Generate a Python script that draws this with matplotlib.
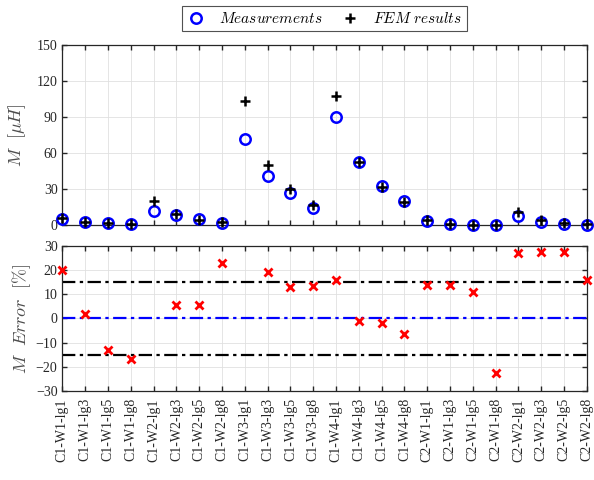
import numpy as np
import matplotlib
matplotlib.use('Agg')
import matplotlib.pyplot as plt

plt.rcParams['mathtext.fontset'] = 'cm'
plt.rcParams['font.family'] = 'Liberation Serif'

labels = ['C1-W1-lg1', 'C1-W1-lg3', 'C1-W1-lg5', 'C1-W1-lg8',
          'C1-W2-lg1', 'C1-W2-lg3', 'C1-W2-lg5', 'C1-W2-lg8',
          'C1-W3-lg1', 'C1-W3-lg3', 'C1-W3-lg5', 'C1-W3-lg8',
          'C1-W4-lg1', 'C1-W4-lg3', 'C1-W4-lg5', 'C1-W4-lg8',
          'C2-W1-lg1', 'C2-W1-lg3', 'C2-W1-lg5', 'C2-W1-lg8',
          'C2-W2-lg1', 'C2-W2-lg3', 'C2-W2-lg5', 'C2-W2-lg8']

# mutual inductance, uH
meas = [4.8, 2.2, 1.5, 0.6, 12.0, 8.4, 4.8, 2.0,
        72.0, 40.8, 26.5, 14.5, 90.5, 52.5, 32.5, 20.5,
        3.6, 0.9, 0.4, 0.1, 7.8, 3.0, 1.0, 0.3]
fem = [6.2, 2.8, 2.0, 0.8, 20.2, 8.9, 4.6, 2.2,
       103.5, 50.5, 30.5, 17.0, 107.5, 52.3, 32.0, 19.4,
       4.2, 1.1, 0.5, 0.1, 11.0, 4.2, 1.7, 0.9]

# relative error, %
err = [20.2, 2.0, -12.8, -16.8, 41.0, 5.5, 5.5, 22.8,
       30.4, 19.0, 13.1, 13.4, 16.0, -0.9, -1.7, -6.2,
       14.0, 13.8, 10.9, -22.4, 27.0, 27.6, 27.5, 16.0]

x = np.arange(1, len(labels) + 1)
grey = (0.15, 0.15, 0.15)

fig = plt.figure(figsize=(5.94, 4.8), dpi=100)
ax1 = fig.add_axes([0.105, 0.531, 0.883, 0.375])
ax2 = fig.add_axes([0.105, 0.185, 0.883, 0.303])

def style(ax):
    ax.grid(True, color=(0.88, 0.88, 0.88), linewidth=0.6)
    ax.set_axisbelow(True)
    ax.tick_params(direction='in', top=True, right=True, length=3.6,
                   width=1.0, color=grey, labelcolor=grey, labelsize=10)
    for s in ax.spines.values():
        s.set_color(grey)
        s.set_linewidth(0.9)
    ax.set_xlim(1, len(labels))
    ax.set_xticks(x)

style(ax1)
ax1.plot(x, meas, 'o', color='b', mfc='none', mew=1.8, ms=7.5,
         clip_on=False, zorder=3, label=r'$Measurements$')
ax1.plot(x, fem, '+', color='k', mew=1.8, ms=7,
         clip_on=False, zorder=4, label=r'$FEM\ results$')
ax1.set_ylim(0, 150)
ax1.set_yticks([0, 30, 60, 90, 120, 150])
ax1.set_xticklabels([])
ax1.set_ylabel(r'$M\ \ [\mu H]$', fontsize=13, color=(0.3, 0.3, 0.3), labelpad=6)

# legend sits centred over the plot area
leg = ax1.legend(loc='upper center', bbox_to_anchor=(0.5, 1 - 5.5 / 480),
                 bbox_transform=fig.transFigure, borderaxespad=0, ncol=2,
                 fontsize=11, frameon=True, fancybox=False, edgecolor=grey,
                 handletextpad=0.9, columnspacing=1.2, borderpad=0.35,
                 handlelength=1.2)
leg.set_bbox_to_anchor((0.105 + 0.883 / 2, 1 - 5.5 / 480), transform=fig.transFigure)
leg.get_frame().set_linewidth(0.8)

style(ax2)
ax2.axhline(15, color='k', ls='-.', lw=1.6, dashes=(6, 2, 1.5, 2))
ax2.axhline(-15, color='k', ls='-.', lw=1.6, dashes=(6, 2, 1.5, 2))
ax2.axhline(0, color='b', ls='-.', lw=1.6, dashes=(6, 2, 1.5, 2))
err = np.array(err)
shown = np.abs(err) <= 30
ax2.plot(x[shown], err[shown], 'x', color='r', mew=2.0, ms=6,
         clip_on=False, zorder=3)
ax2.set_ylim(-30, 30)
ax2.set_yticks(np.arange(-30, 31, 10))
ax2.set_xticklabels(labels, rotation=90)
ax2.tick_params(axis='x', pad=5)
ax2.set_ylabel(r'$M\ \ Error\ \ [\%]$', fontsize=13, color=(0.3, 0.3, 0.3),
               labelpad=2)

fig.savefig('out.png', dpi=100)
